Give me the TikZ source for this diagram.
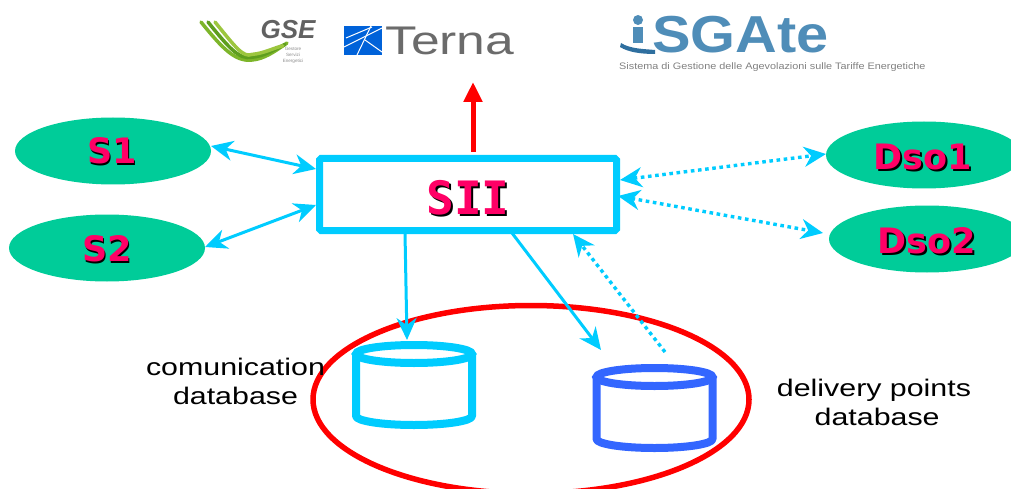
\documentclass[tikz,border=0pt]{standalone}
\usepackage{fontspec}
\setmainfont{Liberation Sans}
\newfontfamily\dejabold{DejaVu Sans}[BoldFont={DejaVu Sans Bold}]
\newfontfamily\dejamono{DejaVu Sans Mono}[BoldFont={DejaVu Sans Mono Bold}]
\usetikzlibrary{arrows.meta,shapes.geometric}
\definecolor{cy}{HTML}{00CCFF}
\definecolor{bl}{HTML}{3366FF}
\definecolor{gr}{HTML}{00CC99}
\definecolor{pk}{HTML}{FF0066}
\definecolor{rd}{HTML}{FF0000}
\tikzset{
  x=1pt,y=-1pt,
  oval/.style={ellipse,fill=gr,draw=none,minimum width=196pt,minimum height=67pt,inner sep=0pt},
  lab/.style={font=\dejabold\bfseries\fontsize{35}{35}\selectfont,text=pk,inner sep=0pt},
  shad/.style={font=\dejabold\bfseries\fontsize{35}{35}\selectfont,text=black,inner sep=0pt},
  solidlink/.style={draw=cy,line width=3pt,-{Stealth[length=22pt,width=20pt,inset=7pt]}},
  bothlink/.style={draw=cy,line width=3pt,{Stealth[length=22pt,width=20pt,inset=7pt]}-{Stealth[length=22pt,width=20pt,inset=7pt]}},
  dotlink/.style={draw=cy,line width=3.4pt,dash pattern=on 3.6pt off 3.6pt,{Stealth[length=22pt,width=20pt,inset=7pt]}-{Stealth[length=22pt,width=20pt,inset=7pt]}},
  dotone/.style={draw=cy,line width=3.4pt,dash pattern=on 3.6pt off 3.6pt,-{Stealth[length=22pt,width=20pt,inset=7pt]}},
  captxt/.style={font=\fontsize{24}{29}\selectfont,inner sep=0pt,text=black},
}
\newcommand{\cyl}[3]{%
  \draw[draw=#3,line width=8pt,line join=round,fill=white]
    (#1-58,#2) -- (#1-58,#2+62) arc[start angle=180,end angle=360,x radius=58pt,y radius=9pt] -- (#1+58,#2);
  \draw[draw=#3,line width=8pt,fill=white] (#1,#2) ellipse[x radius=58pt,y radius=9pt];
}
\newcommand{\capbox}[2]{\scalebox{1.265}[1]{\begin{tabular}{@{}c@{}}#1\\#2\end{tabular}}}
\begin{document}
\begin{tikzpicture}
\useasboundingbox (0,0) rectangle (1011,489);
\clip (0,0) rectangle (1011,489);

% GSE logo
\foreach \d/\c in {0/7DB52A,7/5E9E1E,14/9CC63E}{
  \definecolor{tmpg}{HTML}{\c}
  \draw[draw=tmpg,line width=3.5pt,line cap=round]
    (201+\d,22) .. controls (222+\d,48) and (235+\d*0.6,62-\d*0.3) .. (252,60-\d*0.4)
    .. controls (264,59-\d*0.4) and (274,52-\d*0.3) .. (287-\d*0.3,43+\d*0.2);
}
\node[font=\bfseries\itshape\fontsize{26}{26}\selectfont,text=black!62,inner sep=0pt] (gse) at (288,30) {GSE};
\node[font=\fontsize{4.6}{6}\selectfont,text=black!45,align=center,inner sep=0pt] (gsesub) at (293,55) {Gestore\\Servizi\\Energetici};

% Terna logo
\fill[fill=blue!55!cyan!85!black] (344,26) rectangle (382,55);
\draw[white,line width=1pt] (344,47) -- (382,28);
\draw[white,line width=1pt] (346,38) -- (372,27);
\draw[white,line width=1pt] (357,55) -- (371,26);
\draw[white,line width=1pt] (365,40) -- (382,52);
\node[text=black!58,inner sep=0pt,anchor=base west] (terna) at (385,55) {\fontsize{40}{40}\selectfont\scalebox{1.29}[1]{Terna}};

% iSGAte logo
\definecolor{sgblue}{HTML}{4F8DB8}
\definecolor{sgdark}{HTML}{2F6F9F}
\fill[sgblue] (638,20) circle (5pt);
\fill[sgblue] (633,27) rectangle (643,43);
\fill[sgdark] (621,43) .. controls (630,49) and (645,49) .. (655,50) -- (655,54)
  .. controls (640,54) and (628,52) .. (620,47) -- cycle;
\node[text=sgblue,inner sep=0pt,anchor=base west] (sgate) at (652,53) {\fontsize{52}{52}\selectfont\bfseries\scalebox{1.11}[1]{SGAte}};
\node[text=black!50,inner sep=0pt,anchor=base west] (sgsub) at (619,70) {\fontsize{9.4}{10}\selectfont\scalebox{1.155}[1]{Sistema di Gestione delle Agevolazioni sulle Tariffe Energetiche}};

% ovals
\node[oval] (s1) at (113,151) {};
\node[oval] (s2) at (107,248) {};
\node[oval] (d1) at (924,155) {};
\node[oval] (d2) at (927,239) {};
\foreach \n/\t/\px/\py in {s1/S1/112/151,s2/S2/107/249,d1/Dso1/923/157,d2/Dso2/927/241}{
  \node[shad] (\n sh) at (\px+1.5,\py+1.5) {\t};
  \node[lab] (\n t) at (\px,\py) {\t};
}

% central box
\node[draw=cy,line width=7pt,fill=white,rounded corners=1.5pt,minimum width=297pt,minimum height=72pt,inner sep=0pt] (sii) at (468,194.5) {};
\node[font=\dejamono\bfseries\fontsize{46}{46}\selectfont,text=black,inner sep=0pt] (siish) at (470,199.5) {SII};
\node[font=\dejamono\bfseries\fontsize{46}{46}\selectfont,text=pk,inner sep=0pt] (siit) at (468,197.5) {SII};

% ports
\coordinate (up) at (473,82);
\coordinate (up0) at (473,152);
\coordinate (pa) at (316,169);
\coordinate (pb) at (316,205);
\coordinate (pc) at (620,180);
\coordinate (pd) at (618,196);
\coordinate (pe) at (573,234);
\coordinate (pf) at (405,233);
\coordinate (pg) at (512,233);
\coordinate (qa) at (211,146);
\coordinate (qb) at (205,247);
\coordinate (qc) at (826,154);
\coordinate (qd) at (823,233);
\coordinate (qe) at (665,352);
\coordinate (qf) at (407,340);
\coordinate (qg) at (601,350);

% red enclosing ellipse
\node[ellipse,draw=rd,line width=5.5pt,minimum width=436pt,minimum height=188pt,inner sep=0pt] (ring) at (531,399.5) {};

% connectors
\draw[draw=rd,line width=5pt,-{Triangle[length=20pt,width=18pt]}] (up0) -- (up);
\draw[bothlink] (qa) -- (pa);
\draw[bothlink] (qb) -- (pb);
\draw[dotlink] (pc) -- (qc);
\draw[dotlink] (pd) -- (qd);
\draw[dotone] (qe) -- (pe);
\draw[solidlink] (pf) -- (qf);
\draw[solidlink] (pg) -- (qg);

% cylinders
\cyl{414}{354}{cy}
\cyl{654.5}{377}{bl}

% captions
\node[captxt] (c1) at (235.5,384) {\capbox{comunication}{database}};
\node[captxt] (c2) at (874,405) {\capbox{delivery points}{\hspace*{5pt}database}};
\end{tikzpicture}
\end{document}
